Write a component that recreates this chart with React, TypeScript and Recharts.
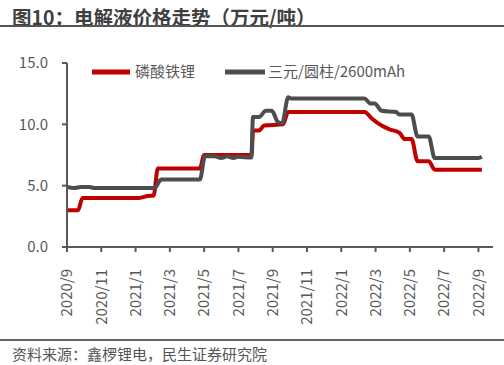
import React from 'react';
import { LineChart, Line, XAxis, YAxis } from 'recharts';

// months counted from 2020/9
const xTickLabels = ['2020/9', '2020/11', '2021/1', '2021/3', '2021/5', '2021/7', '2021/9', '2021/11', '2022/1', '2022/3', '2022/5', '2022/7', '2022/9'];
const xTicks = xTickLabels.map((_, i) => i * 2);
const yTicks = [0, 5, 10, 15];

// 磷酸铁锂
const lfpMonth = [0, 0.65, 0.9, 4.2, 4.7, 5.05, 5.3, 7.75, 8.0, 10.77, 10.85, 11.2, 11.5, 12.6, 12.9, 17.36, 17.76, 18.35, 18.8, 19.4, 19.7, 20.1, 20.45, 21.1, 21.45, 24.2];
const lfpPrice = [3.0, 3.0, 4.0, 4.0, 4.15, 4.2, 6.4, 6.4, 7.5, 7.5, 9.5, 9.5, 9.9, 10.0, 11.0, 11.0, 10.5, 9.9, 9.6, 9.3, 8.8, 8.8, 7.0, 7.0, 6.3, 6.3];

// 三元/圆柱/2600mAh
const ncmMonth = [0, 0.4, 0.8, 1.3, 1.6, 5.1, 5.5, 7.75, 8.05, 8.6, 9.0, 9.35, 9.7, 10.0, 10.75, 10.85, 11.2, 11.6, 11.95, 12.3, 12.55, 12.9, 13.1, 17.35, 17.7, 17.95, 18.35, 19.2, 19.4, 20.1, 20.45, 21.1, 21.45, 24.0, 24.2];
const ncmPrice = [4.9, 4.8, 4.9, 4.9, 4.8, 4.8, 5.5, 5.5, 7.4, 7.4, 7.25, 7.4, 7.25, 7.35, 7.3, 10.6, 10.6, 11.1, 11.1, 10.2, 10.1, 12.2, 12.1, 12.1, 11.7, 11.7, 11.1, 11.0, 10.8, 10.8, 9.0, 9.0, 7.25, 7.25, 7.35];

const lfpData = lfpMonth.map((m, i) => ({ m, v: lfpPrice[i] }));
const ncmData = ncmMonth.map((m, i) => ({ m, v: ncmPrice[i] }));

const RED = '#c00000';
const GRAY = '#4d4d4f';
const FONT = "'Noto Sans CJK SC', 'Noto Sans', sans-serif";

const XTick = (props: any) => {
  const { x, y, payload } = props;
  const ty = y + 15;
  return (
    <text x={x} y={ty} transform={`rotate(-90 ${x} ${ty})`} textAnchor="end" dy="0.35em" fontSize={15} fill="#595959" fontFamily={FONT}>
      {xTickLabels[payload.value / 2]}
    </text>
  );
};

const LegendBox = () => (
  <svg width={504} height={30} style={{ position: 'absolute', left: 0, top: 0 }}>
    <line x1={92} x2={130} y1={15} y2={15} stroke={RED} strokeWidth={5} />
    <text x={135} y={15} dy="0.35em" fontSize={15} fill="#595959" fontFamily={FONT}>磷酸铁锂</text>
    <line x1={225} x2={265} y1={15} y2={15} stroke={GRAY} strokeWidth={5} />
    <text x={268} y={15} dy="0.35em" fontSize={15} fill="#595959" fontFamily={FONT}>三元/圆柱/2600mAh</text>
  </svg>
);

export default function App() {
  return (
    <div style={{ position: 'absolute', left: 0, top: 0, width: 504, height: 365, background: '#fff', fontFamily: FONT }}>
      <div style={{ position: 'absolute', left: 12, top: 2, fontSize: 19.5, fontWeight: 'bold', color: '#3f3f3f', whiteSpace: 'nowrap' }}>
        图10：电解液价格走势（万元/吨）
      </div>
      <div style={{ position: 'absolute', left: 0, top: 25, width: 504, height: 2, background: '#555' }} />
      <div style={{ position: 'absolute', left: 0, top: 30 }}>
        <LineChart width={504} height={310} margin={{ top: 33, right: 11, bottom: 0, left: 0 }}>
          <XAxis
            type="number"
            dataKey="m"
            domain={[0, 24.85]}
            ticks={xTicks}
            interval={0}
            tick={<XTick />}
            height={93}
            tickSize={5}
            stroke="#595959"
            strokeWidth={2}
            allowDuplicatedCategory={false}
          />
          <YAxis
            domain={[0, 15]}
            ticks={yTicks}
            width={67}
            tickSize={5}
            tickMargin={14}
            tickFormatter={(v: number) => v.toFixed(1)}
            tick={{ fontSize: 15, fill: '#595959', fontFamily: FONT }}
            stroke="#595959"
            strokeWidth={2}
          />
          <Line data={lfpData} dataKey="v" name="磷酸铁锂" type="monotone" stroke={RED} strokeWidth={4} dot={false} isAnimationActive={false} />
          <Line data={ncmData} dataKey="v" name="三元/圆柱/2600mAh" type="monotone" stroke={GRAY} strokeWidth={4} dot={false} isAnimationActive={false} />
        </LineChart>
      </div>
      <div style={{ position: 'absolute', left: 0, top: 57 }}>
        <LegendBox />
      </div>
      <div style={{ position: 'absolute', left: 0, top: 339, width: 504, height: 1.5, background: '#666' }} />
      <div style={{ position: 'absolute', left: 12, top: 343, fontSize: 15, color: '#555', whiteSpace: 'nowrap' }}>
        资料来源：鑫椤锂电，民生证券研究院
      </div>
    </div>
  );
}
